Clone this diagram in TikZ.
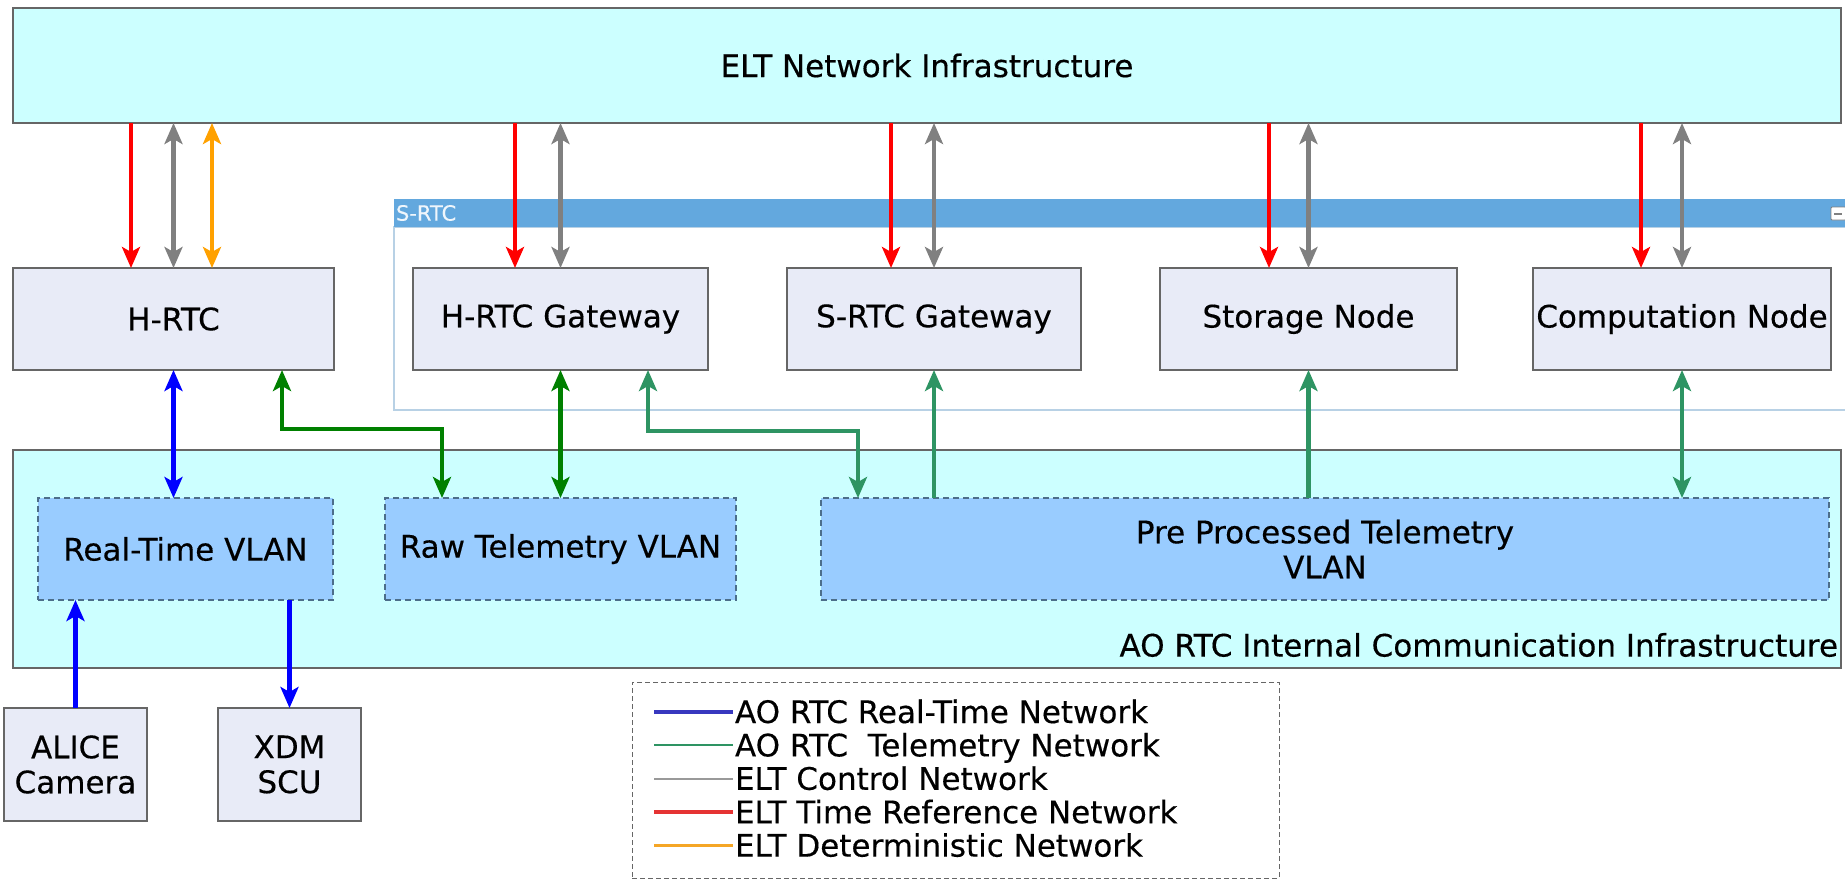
\documentclass[tikz,border=0pt]{standalone}
\usepackage{fontspec}
\setmainfont{DejaVu Sans}[FakeBold=0.35]
\usetikzlibrary{arrows.meta, calc, positioning}
\definecolor{infracyan}{rgb}{0.80, 1.0, 1.0}
\definecolor{nodelilac}{rgb}{0.91, 0.92, 0.97}
\definecolor{vlanblue}{rgb}{0.60, 0.80, 1.0}
\definecolor{vlanedge}{rgb}{0.30, 0.43, 0.54}
\definecolor{srtcbar}{rgb}{0.39, 0.66, 0.87}
\definecolor{srtcedge}{rgb}{0.72, 0.82, 0.90}
\definecolor{edgegray}{rgb}{0.40, 0.40, 0.40}
\definecolor{timered}{rgb}{1.0, 0.0, 0.0}
\definecolor{ctrlgray}{rgb}{0.50, 0.50, 0.50}
\definecolor{detorange}{rgb}{1.0, 0.63, 0.0}
\definecolor{rtblue}{rgb}{0.0, 0.0, 1.0}
\definecolor{rawgreen}{rgb}{0.0, 0.50, 0.0}
\definecolor{telgreen}{rgb}{0.18, 0.58, 0.39}
\definecolor{legblue}{rgb}{0.22, 0.22, 0.75}
\definecolor{legred}{rgb}{0.90, 0.20, 0.20}
\definecolor{legorange}{rgb}{0.96, 0.65, 0.15}
\definecolor{leggray}{rgb}{0.60, 0.60, 0.60}

\begin{document}
\begin{tikzpicture}[x=1pt, y=-1pt,
    every node/.style={font=\fontsize{31}{35}\selectfont, inner sep=0pt, outer sep=0pt},
    infra/.style={draw=edgegray, line width=1.5pt, fill=infracyan, minimum width=1828pt},
    unit/.style={draw=edgegray, line width=1.5pt, fill=nodelilac, minimum height=102pt},
    vlan/.style={draw=vlanedge, line width=1.2pt, dash pattern=on 6pt off 4pt, fill=vlanblue, minimum height=102pt, align=center},
    dev/.style={draw=edgegray, line width=1.5pt, fill=nodelilac, minimum width=143pt, minimum height=113pt, align=center},
    link/.style={line width=4.5pt},
    uni/.style={link, -{Stealth[length=21pt, width=18pt, inset=5pt]}},
    bidi/.style={link, {Stealth[length=21pt, width=18pt, inset=5pt]}-{Stealth[length=21pt, width=18pt, inset=5pt]}}
  ]
    \clip (0,0) rectangle (1845,879);
    \fill[white] (0,0) rectangle (1845,879);

    % S-RTC group frame
    \draw[srtcedge, line width=1.5pt] (394,227) rectangle (1860,410);
    \fill[srtcbar] (394,199) rectangle (1860,227);
    \node[anchor=west, text=white!90!srtcbar, font=\fontsize{21}{25}\selectfont] (SRTC) at (396,213) {S-RTC};
    \draw[ctrlgray, fill=white, line width=0.8pt, rounded corners=1pt] (1831,207) rectangle (1846,220);
    \draw[ctrlgray, line width=2pt] (1834,213.5) -- (1842,213.5);

    % infrastructures
    \node[infra, minimum height=115pt] (ELT) at (927,65.5) {ELT Network Infrastructure};
    \node[infra, minimum height=218pt] (AOI) at (927,559) {};
    \node[anchor=east] (AOIL) at (1838,645) {AO RTC Internal Communication Infrastructure};

    % computers
    \node[unit, minimum width=321pt] (HRTC) at (173.5,319) {H-RTC};
    \node[unit, minimum width=295pt] (HGW) at (560.5,319) {H-RTC Gateway};
    \node[unit, minimum width=294pt] (SGW) at (934,319) {S-RTC Gateway};
    \node[unit, minimum width=297pt] (STO) at (1308.5,319) {Storage Node};
    \node[unit, minimum width=298pt] (CMP) at (1682,319) {Computation Node};

    % vlans
    \node[vlan, minimum width=295pt] (RTV) at (185.5,549) {Real-Time VLAN};
    \node[vlan, minimum width=351pt] (RAW) at (560.5,549) {Raw Telemetry VLAN};
    \node[vlan, minimum width=1008pt] (PPT) at (1325,549) {Pre Processed Telemetry\\VLAN};

    % devices
    \node[dev] (ALC) at (75.5,764.5) {ALICE\\Camera};
    \node[dev] (XDM) at (289.5,764.5) {XDM\\SCU};

    % ELT links
    \foreach \n/\x in {HRTC/131, HGW/515, SGW/891, STO/1269, CMP/1641}
        \draw[uni, timered] (ELT.south -| \x,0) -- (\n.north -| \x,0);
    \foreach \n in {HRTC, HGW, SGW, STO, CMP}
        \draw[bidi, ctrlgray] (ELT.south -| \n.north) -- (\n.north);
    \draw[bidi, detorange] (ELT.south -| 212,0) -- (HRTC.north -| 212,0);

    % real-time links
    \draw[bidi, rtblue] (HRTC.south) -- (HRTC.south |- RTV.north);
    \draw[uni, rtblue] (ALC.north) -- (ALC.north |- RTV.south);
    \draw[uni, rtblue] (XDM.north |- RTV.south) -- (XDM.north);

    % telemetry links
    \draw[bidi, rawgreen] (HRTC.south -| 282,0) -- ++(0,59) -| (RAW.north -| 442,0);
    \draw[bidi, rawgreen] (HGW.south) -- (HGW.south |- RAW.north);
    \draw[bidi, telgreen] (HGW.south -| 648,0) -- ++(0,61) -| (PPT.north -| 858,0);
    \draw[uni, telgreen] (SGW.south |- PPT.north) -- (SGW.south);
    \draw[uni, telgreen] (STO.south |- PPT.north) -- (STO.south);
    \draw[bidi, telgreen] (CMP.south) -- (CMP.south |- PPT.north);

    % legend
    \node[draw=edgegray, line width=1pt, dash pattern=on 5pt off 3pt, minimum width=647pt, minimum height=196pt] (LEG) at (955.5,780) {};
    \foreach \i/\c/\w/\t in {0/legblue/4.5/AO RTC Real-Time Network, 1/telgreen/2/AO RTC~ Telemetry Network, 2/leggray/2/ELT Control Network, 3/legred/3.5/ELT Time Reference Network, 4/legorange/3.5/ELT Deterministic Network}{
        \node[anchor=west, text height=24pt, text depth=2pt] (K\i) at (735,712+33.4*\i) {\t};
        \draw[\c, line width=\w pt] ([xshift=-81pt]K\i.west) -- ([xshift=-2pt]K\i.west);
    }
\end{tikzpicture}
\end{document}
